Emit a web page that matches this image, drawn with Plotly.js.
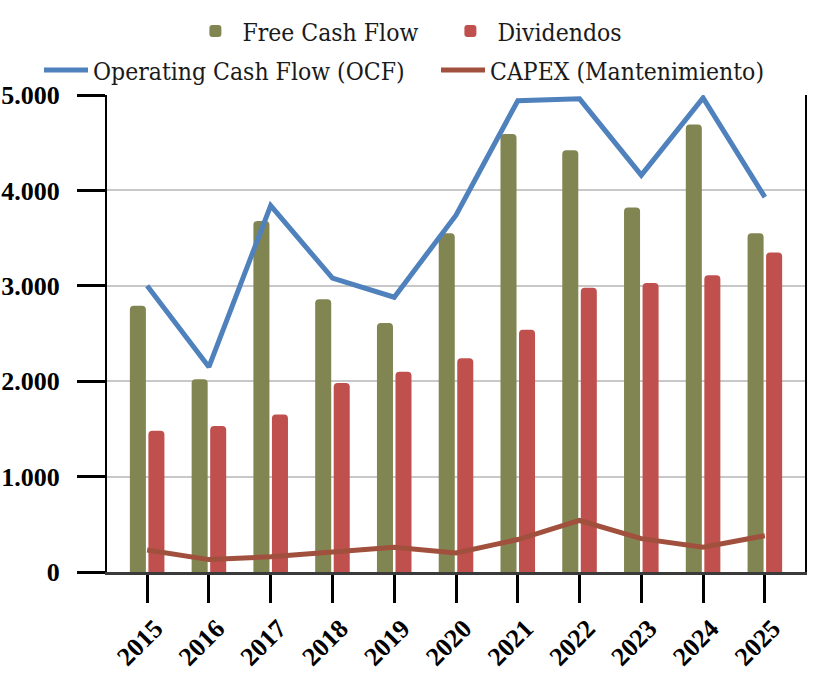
<!DOCTYPE html>
<html>
<head>
<meta charset="utf-8">
<script src="https://cdn.plot.ly/plotly-3.0.1.min.js"></script>
<style>
  html, body { margin: 0; padding: 0; background: #fff; }
  #chart { width: 832px; height: 679px; }
</style>
</head>
<body>
<div id="chart"></div>
<script>
// Years on the category axis
const years = ['2015', '2016', '2017', '2018', '2019', '2020', '2021', '2022', '2023', '2024', '2025'];

// Series values (millones)
const freeCashFlow = [2790, 2020, 3680, 2860, 2610, 3550, 4590, 4420, 3820, 4690, 3550];
const dividendos = [1480, 1530, 1650, 1980, 2100, 2240, 2540, 2980, 3030, 3110, 3350];
const operatingCashFlow = [3000, 2150, 3840, 3080, 2880, 3740, 4940, 4960, 4160, 4970, 3930];
const capexMantenimiento = [230, 130, 160, 210, 260, 200, 340, 540, 350, 260, 380];

// Y axis ticks
const yTickVals = [0, 1000, 2000, 3000, 4000, 5000];
const yTickText = ['0', '1.000', '2.000', '3.000', '4.000', '5.000'];

const tickSerif = 'serif';
const legendSerif = 'DejaVu Serif Condensed, DejaVu Serif';

const traces = [
    {
        type: 'bar', name: 'Free Cash Flow', x: years, y: freeCashFlow,
        marker: { color: '#818552', cornerradius: 4 },
        legend: 'legend'
    },
    {
        type: 'bar', name: 'Dividendos', x: years, y: dividendos,
        marker: { color: '#C0504D', cornerradius: 4 },
        legend: 'legend'
    },
    {
        type: 'scatter', mode: 'lines', name: 'Operating Cash Flow (OCF)', x: years, y: operatingCashFlow,
        line: { color: '#4F81BD', width: 5 },
        legend: 'legend2'
    },
    {
        type: 'scatter', mode: 'lines', name: 'CAPEX (Mantenimiento)', x: years, y: capexMantenimiento,
        line: { color: '#A0503C', width: 5 },
        legend: 'legend2'
    }
];

const legendBase = {
    orientation: 'h',
    xanchor: 'left',
    yanchor: 'middle',
    itemwidth: 44,
    bgcolor: 'rgba(0,0,0,0)',
    font: { family: legendSerif, size: 24.5, color: '#1a1a1a' }
};

const layout = {
    width: 832,
    height: 679,
    margin: { l: 107, r: 27, t: 95, b: 107, autoexpand: false },
    paper_bgcolor: '#fff',
    plot_bgcolor: '#fff',
    barmode: 'group',
    bargap: 0.4,
    bargroupgap: 0.135,
    font: { family: tickSerif, color: '#000' },
    legend: Object.assign({}, legendBase, { x: 0.1166, y: 1.134, entrywidth: 196 }),
    legend2: Object.assign({}, legendBase, { x: -0.0974, y: 1.052, entrywidth: 338 }),
    xaxis: {
        type: 'category',
        range: [-0.65, 10.65],
        showline: true,
        linecolor: '#3a3a3a',
        linewidth: 3,
        ticks: 'outside',
        ticklen: 28,
        tickwidth: 3,
        tickcolor: '#000',
        tickangle: -45,
        ticklabelshift: 8,
        tickfont: { family: tickSerif, size: 26, color: '#000', weight: 'bold' },
        showgrid: false,
        zeroline: false
    },
    yaxis: {
        range: [0, 5000],
        tickvals: yTickVals,
        ticktext: yTickText,
        showline: true,
        mirror: true,
        linecolor: '#000',
        linewidth: 2,
        ticks: 'outside',
        ticklen: 28,
        tickwidth: 3,
        tickcolor: '#000',
        ticklabelstandoff: 12,
        tickfont: { family: tickSerif, size: 26, color: '#000', weight: 'bold' },
        showgrid: true,
        gridcolor: '#C8C8C8',
        gridwidth: 2,
        zeroline: false
    }
};

Plotly.newPlot('chart', traces, layout, { displayModeBar: false, staticPlot: true });
</script>
</body>
</html>
